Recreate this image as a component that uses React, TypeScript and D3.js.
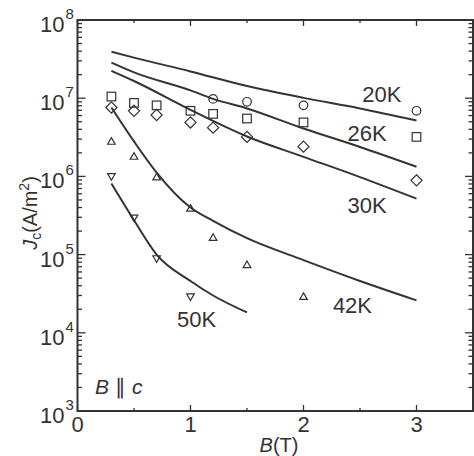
import React from "react";
import * as d3 from "d3";

const W = 474;
const H = 456;

const xTicks = [0, 1, 2, 3];
const yDecades = [3, 4, 5, 6, 7, 8];

// fitted curves (B in T, Jc in A/m^2)
const line20B = [0.3, 0.5, 1.0, 1.5, 2.0, 2.5, 3.0];
const line20J = [3.94e7, 3.3e7, 2.2e7, 1.43e7, 1.01e7, 7.4e6, 5.2e6];
const line26B = [0.3, 0.5, 1.0, 1.2, 1.5, 2.0, 2.5, 3.0];
const line26J = [2.85e7, 2.14e7, 1.26e7, 9.8e6, 7.4e6, 4.1e6, 2.38e6, 1.33e6];
const line30B = [0.3, 0.5, 1.0, 1.5, 2.0, 2.5, 3.0];
const line30J = [2.24e7, 1.66e7, 7.1e6, 3.24e6, 1.78e6, 9.8e5, 5.2e5];
const line42B = [0.3, 0.5, 0.7, 1.0, 1.2, 1.5, 2.0, 2.5, 3.0];
const line42J = [7.6e6, 2.8e6, 1.12e6, 4.0e5, 2.7e5, 1.62e5, 8.5e4, 4.6e4, 2.6e4];
const line50B = [0.3, 0.5, 0.7, 1.0, 1.2, 1.5];
const line50J = [8.1e5, 2.75e5, 1.0e5, 4.6e4, 3.0e4, 1.82e4];

// measured points
const circB = [1.2, 1.5, 2.0, 3.0];
const circJ = [9.8e6, 9.0e6, 8.1e6, 6.9e6];
const sqB = [0.3, 0.5, 0.7, 1.0, 1.2, 1.5, 2.0, 3.0];
const sqJ = [1.05e7, 8.7e6, 8.1e6, 6.9e6, 6.3e6, 5.5e6, 4.9e6, 3.2e6];
const diaB = [0.3, 0.5, 0.7, 1.0, 1.2, 1.5, 2.0, 3.0];
const diaJ = [7.6e6, 6.9e6, 6.1e6, 4.9e6, 4.2e6, 3.2e6, 2.4e6, 8.9e5];
const upB = [0.3, 0.5, 0.7, 1.0, 1.2, 1.5, 2.0];
const upJ = [2.8e6, 1.8e6, 9.8e5, 3.9e5, 1.65e5, 7.4e4, 2.9e4];
const dnB = [0.3, 0.5, 0.7, 1.0];
const dnJ = [1.0e6, 2.95e5, 8.9e4, 2.9e4];

const curveLabels = ["20K", "26K", "30K", "42K", "50K"];
const labelPos: [number, number][] = [
  [2.52, 9.0e6],
  [2.39, 2.87e6],
  [2.39, 3.37e5],
  [2.26, 1.77e4],
  [0.88, 1.17e4],
];

const INK = "#333";
const FONT = "'Liberation Sans', Arial, Helvetica, sans-serif";

export default function App() {
  const left = 77.5, right = 473, top = 20, bottom = 411;
  const x = d3.scaleLinear().domain([0, 3.5]).range([left, right]);
  const y = d3.scaleLog().domain([1e3, 1e8]).range([bottom, top]);

  const line = d3
    .line<[number, number]>()
    .x((d) => x(d[0]))
    .y((d) => y(d[1]))
    .curve(d3.curveMonotoneX);

  const curves = [
    [line20B, line20J],
    [line26B, line26J],
    [line30B, line30J],
    [line42B, line42J],
    [line50B, line50J],
  ].map(([b, j]) => line(b.map((v, i) => [v, j[i]] as [number, number])) || "");

  const minor: number[] = [];
  for (let d = 3; d < 8; d++) for (let k = 2; k <= 9; k++) minor.push(k * Math.pow(10, d));
  const xMinor = [0.5, 1.5, 2.5];

  const mk = { fill: "none", stroke: INK, strokeWidth: 1.2 };

  return (
    <svg width={W} height={H} style={{ position: "absolute", left: 0, top: 0, background: "#fff" }}>
      <rect x={0} y={0} width={W} height={H} fill="#fff" />
      {/* ticks */}
      <g stroke={INK} strokeWidth={1.3}>
        {yDecades.map((d) => (
          <g key={"yd" + d}>
            <line x1={left} x2={left + 8} y1={y(Math.pow(10, d))} y2={y(Math.pow(10, d))} />
            <line x1={right} x2={right - 8} y1={y(Math.pow(10, d))} y2={y(Math.pow(10, d))} />
          </g>
        ))}
        {minor.map((v, i) => (
          <g key={"ym" + i}>
            <line x1={left} x2={left + 4.5} y1={y(v)} y2={y(v)} />
            <line x1={right} x2={right - 4.5} y1={y(v)} y2={y(v)} />
          </g>
        ))}
        {xTicks.map((t) => (
          <g key={"xt" + t}>
            <line x1={x(t)} x2={x(t)} y1={bottom} y2={bottom - 6} />
            <line x1={x(t)} x2={x(t)} y1={top} y2={top + 6} />
          </g>
        ))}
        {xMinor.map((t) => (
          <g key={"xm" + t}>
            <line x1={x(t)} x2={x(t)} y1={bottom} y2={bottom - 3} />
            <line x1={x(t)} x2={x(t)} y1={top} y2={top + 3} />
          </g>
        ))}
      </g>
      <rect x={left} y={top} width={right - left} height={bottom - top} fill="none" stroke={INK} strokeWidth={2} />

      {/* curves */}
      {curves.map((p, i) => (
        <path key={"c" + i} d={p} fill="none" stroke={INK} strokeWidth={2} />
      ))}

      {/* markers */}
      {circB.map((b, i) => (
        <circle key={"ci" + i} cx={x(b)} cy={y(circJ[i])} r={4.3} {...mk} />
      ))}
      {sqB.map((b, i) => (
        <rect key={"sq" + i} x={x(b) - 4.3} y={y(sqJ[i]) - 4.3} width={8.6} height={8.6} {...mk} />
      ))}
      {diaB.map((b, i) => {
        const cx = x(b), cy = y(diaJ[i]), r = 5.6;
        return <path key={"di" + i} d={`M${cx},${cy - r}L${cx + r},${cy}L${cx},${cy + r}L${cx - r},${cy}Z`} {...mk} />;
      })}
      {upB.map((b, i) => {
        const cx = x(b), cy = y(upJ[i]);
        return <path key={"up" + i} d={`M${cx},${cy - 3.8}L${cx + 3.8},${cy + 2.8}L${cx - 3.8},${cy + 2.8}Z`} {...mk} />;
      })}
      {dnB.map((b, i) => {
        const cx = x(b), cy = y(dnJ[i]);
        return <path key={"dn" + i} d={`M${cx},${cy + 3.8}L${cx + 3.8},${cy - 2.8}L${cx - 3.8},${cy - 2.8}Z`} {...mk} />;
      })}

      {/* curve labels */}
      <g fontFamily={FONT} fontSize={22} fill={INK}>
        {curveLabels.map((t, i) => (
          <text key={"lb" + t} x={x(labelPos[i][0])} y={y(labelPos[i][1])}>
            {t}
          </text>
        ))}
      </g>

      {/* y tick labels */}
      <g fontFamily={FONT} fill={INK}>
        {yDecades.map((d) => (
          <text key={"yl" + d} x={64.5} y={y(Math.pow(10, d)) + 12} fontSize={22} textAnchor="end">
            10
          </text>
        ))}
        {yDecades.map((d) => (
          <text key={"ye" + d} x={65.5} y={y(Math.pow(10, d)) - 1} fontSize={15}>
            {d}
          </text>
        ))}
      </g>

      {/* x tick labels */}
      <g fontFamily={FONT} fill={INK} fontSize={22} textAnchor="middle">
        {xTicks.map((t) => (
          <text key={"xl" + t} x={x(t)} y={432}>
            {t}
          </text>
        ))}
      </g>

      {/* axis titles */}
      <text x={279} y={452} fontFamily={FONT} fontSize={20} fill={INK} textAnchor="middle">
        <tspan fontStyle="italic">B</tspan>(T)
      </text>
      <text
        transform="translate(37,213) rotate(-90)"
        fontFamily={FONT}
        fontSize={20}
        fill={INK}
        textAnchor="middle"
      >
        <tspan fontStyle="italic">J</tspan>
        <tspan fontSize={14} dy={4}>c</tspan>
        <tspan dy={-4}>(A/m</tspan>
        <tspan fontSize={14} dy={-8}>2</tspan>
        <tspan dy={8}>)</tspan>
      </text>

      {/* annotation */}
      <text x={95} y={394} fontFamily={FONT} fontSize={21} fill={INK}>
        <tspan fontStyle="italic">B</tspan>
        <tspan dx={6}>∥</tspan>
        <tspan dx={6} fontStyle="italic">c</tspan>
      </text>
    </svg>
  );
}
